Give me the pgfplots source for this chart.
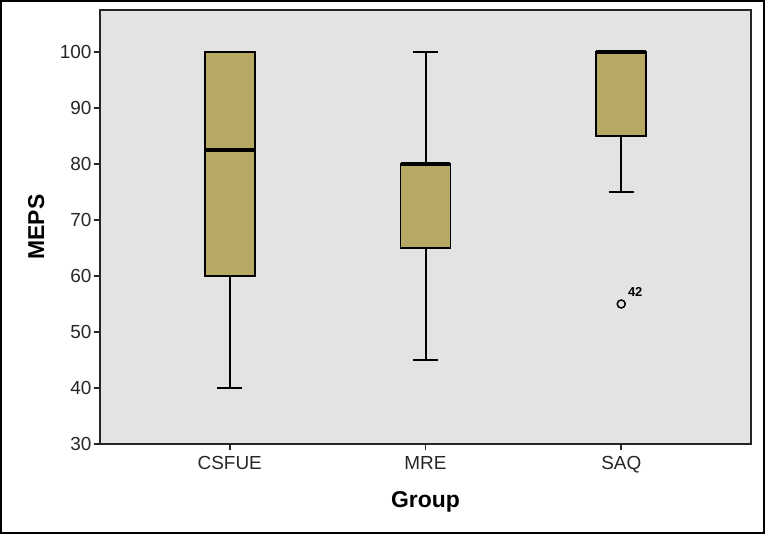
\documentclass[border=0pt]{standalone}
\usepackage{pgfplots}
\pgfplotsset{compat=1.18}
\usepgfplotslibrary{statistics}
\usepackage{fontspec}
\setmainfont{Liberation Sans}
\definecolor{bg}{RGB}{227,227,227}
\definecolor{boxc}{RGB}{181,169,99}
\begin{document}
\begin{tikzpicture}[x=1bp,y=1bp]
\path[use as bounding box] (0,0) rectangle (765,534);
\draw[line width=2bp] (1,1) rectangle (764,533);
\begin{axis}[
  at={(100bp,90bp)}, anchor=south west,
  width=651bp, height=434bp, scale only axis,
  xmin=0.337, xmax=3.663, ymin=30, ymax=107.5,
  axis background/.style={fill=bg},
  xtick={1,2,3}, xticklabels={CSFUE,MRE,SAQ},
  ytick={30,40,...,100},
  tick align=outside, tick pos=left, major tick length=6bp,
  axis line style={line width=1.5bp, black!85},
  tick style={line width=1.5bp, black!85},
  ticklabel style={font=\fontsize{19}{19}\selectfont, text=black!85},
  /pgf/number format/assume math mode=true,
  xticklabel style={yshift=-3bp},
  yticklabel style={xshift=1bp},
  xlabel={Group}, ylabel={MEPS},
  label style={font=\bfseries\fontsize{23}{23}\selectfont},
  x label style={at={(axis description cs:0.5,-0.1336)}, anchor=center},
  y label style={at={(axis description cs:-0.098,0.5)}, anchor=center},
  boxplot/draw direction=y,
  boxplot/box extend=0.255,
  boxplot/whisker extend=0.13,
  boxplot/every box/.style={draw=black, fill=boxc, line width=1.8bp},
  boxplot/every whisker/.style={draw=black, line width=2bp},
  boxplot/every median/.style={draw=black, line width=3.5bp},
]
\addplot[boxplot prepared={lower whisker=40, lower quartile=60, median=82.5, upper quartile=100, upper whisker=100, draw position=1}, draw=black, fill=boxc, line width=2bp] coordinates {};
\addplot[boxplot prepared={lower whisker=45, lower quartile=65, median=80, upper quartile=80, upper whisker=100, draw position=2}, draw=black, fill=boxc, line width=2bp] coordinates {};
\addplot[boxplot prepared={lower whisker=75, lower quartile=85, median=100, upper quartile=100, upper whisker=100, draw position=3}, draw=black, fill=boxc, line width=2bp] coordinates {};
\addplot[only marks, mark=o, mark size=4bp, line width=1.5bp, black] coordinates {(3,55)};
\node[font=\bfseries\fontsize{13}{13}\selectfont] at (axis cs:3,55) [xshift=14bp, yshift=12bp] {42};
\end{axis}
\end{tikzpicture}
\end{document}
